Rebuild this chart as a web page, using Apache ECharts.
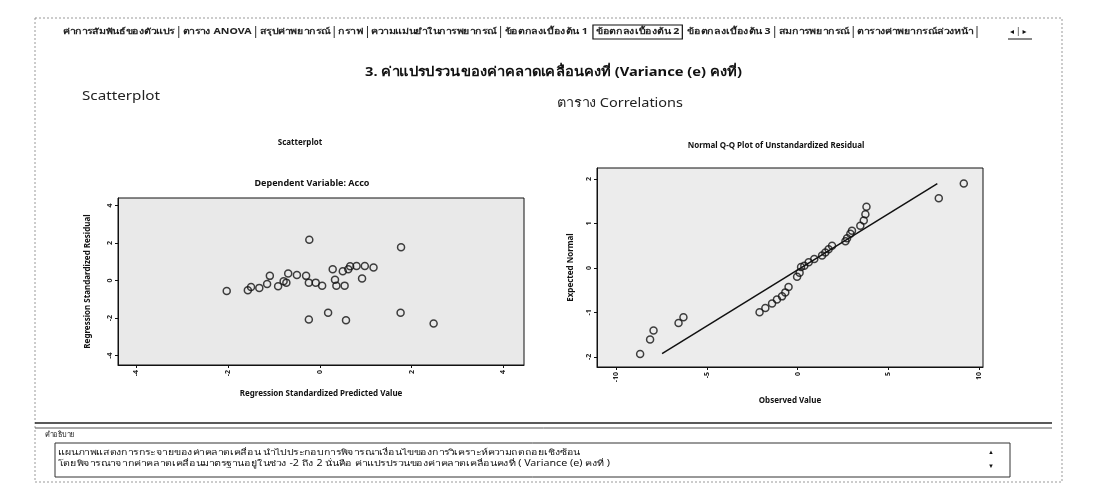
<!DOCTYPE html>
<html>
<head>
<meta charset="utf-8">
<script src="https://cdn.jsdelivr.net/npm/echarts@6/dist/echarts.min.js"></script>
<style>
html,body{margin:0;padding:0;background:#fff;}
#c{width:1097px;height:490px;}
</style>
</head>
<body>
<div id="c"></div>
<script>
// Scatterplot (Dependent Variable: Acco)
const predictedValue = [-2.03,-1.57,-1.50,-1.32,-1.15,-1.09,-0.91,-0.79,-0.73,-0.69,-0.50,-0.30,-0.23,-0.24,-0.24,-0.09,0.05,0.18,0.28,0.33,0.36,0.50,0.54,0.57,0.62,0.66,0.80,0.92,0.98,1.17,1.77,1.76,2.48];
const standardizedResidual = [-0.55,-0.52,-0.34,-0.39,-0.18,0.25,-0.30,-0.04,-0.11,0.37,0.30,0.25,2.17,-0.11,-2.08,-0.11,-0.28,-1.71,0.60,0.04,-0.28,0.50,-0.27,-2.12,0.60,0.76,0.78,0.11,0.78,0.69,1.78,-1.71,-2.29];
const scatterTicks = [-4,-2,0,2,4];

// Normal Q-Q Plot of Unstandardized Residual
const observedValue = [-8.69,-8.14,-7.95,-6.57,-6.30,-2.10,-1.78,-1.41,-1.14,-0.86,-0.68,-0.50,-0.03,0.11,0.19,0.37,0.61,0.92,1.35,1.53,1.71,1.90,2.64,2.73,2.91,3.00,3.46,3.65,3.74,3.80,7.79,9.17];
const expectedNormal = [-1.94,-1.61,-1.41,-1.24,-1.11,-1.00,-0.90,-0.80,-0.71,-0.64,-0.55,-0.43,-0.20,-0.11,0.02,0.05,0.13,0.20,0.28,0.35,0.42,0.50,0.60,0.67,0.77,0.84,0.95,1.07,1.21,1.38,1.57,1.90];
const qqLineX = [-7.48, 7.71];
const qqLineY = [-1.93, 1.90];
const qqXTicks = [-10,-5,0,5,10];
const qqYTicks = [-2,-1,0,1,2];

const tabs = ['ค่าการสัมพันธ์ของตัวแปร','ตาราง ANOVA','สรุปค่าพยากรณ์','กราฟ','ความแม่นยำในการพยากรณ์','ข้อตกลงเบื้องต้น 1','ข้อตกลงเบื้องต้น 2','ข้อตกลงเบื้องต้น 3','สมการพยากรณ์','ตารางค่าพยากรณ์ล่วงหน้า'];
const activeTab = 6;

const FONT = '"Noto Sans","DejaVu Sans",sans-serif';
const mctx = document.createElement('canvas').getContext('2d');
function measure(text,size,weight){ mctx.font = weight + ' ' + size + 'px ' + FONT; return mctx.measureText(text).width || 1; }
function fitText(text, size, weight, x1, x2, y, color){
  const w = measure(text,size,weight);
  return {type:'text', x:x1, y:y, scaleX:(x2-x1)/w,
    style:{text:text, fontSize:size, fontWeight:weight, fontFamily:FONT, fill:color||'#111', verticalAlign:'middle'}};
}

const chart = echarts.init(document.getElementById('c'), null, {renderer:'canvas'});
function zipPts(a,b){return a.map((v,i)=>[v,b[i]]);}

function axisCommon(ticks, nameGap, name){
  return {
    type:'value', name:name, nameLocation:'middle', nameGap:nameGap,
    nameTextStyle:{fontFamily:FONT,fontSize:8,fontWeight:'bold',color:'#111'},
    axisLine:{show:true,onZero:false,lineStyle:{color:'#111',width:1}},
    axisTick:{show:true,length:3,customValues:ticks,lineStyle:{color:'#111'}},
    axisLabel:{show:true,customValues:ticks,fontSize:7,fontWeight:'bold',color:'#222',rotate:90,margin:5,fontFamily:FONT},
    splitLine:{show:false}
  };
}

const graphics = [];
// outer page frame
graphics.push({type:'rect',shape:{x:35,y:18,width:1027,height:464},style:{fill:'none',stroke:'#999',lineWidth:1,lineDash:[2,2]}});

// tab strip: uniform horizontal scale so the strip runs from x0 to xEnd with small gaps
(function(){
  const widths = tabs.map(t=>measure(t,8,'bold'));
  const x0 = 63, xEnd = 973, g = 8;
  const W = widths.reduce((a,b)=>a+b,0);
  const s = (xEnd - x0 - (tabs.length-1)*g)/W;
  let x = x0;
  tabs.forEach((t,i)=>{
    const w = widths[i]*s;
    graphics.push({type:'text',x:x,y:32,scaleX:s,style:{text:t,fontSize:8,fontWeight:'bold',fontFamily:FONT,fill:'#222',verticalAlign:'middle'}});
    if(i===activeTab){
      graphics.push({type:'rect',shape:{x:x-3,y:25,width:w+6,height:14},style:{fill:'none',stroke:'#111',lineWidth:1.2}});
    } else if(i!==activeTab-1){
      graphics.push({type:'line',shape:{x1:x+w+g/2,y1:26,x2:x+w+g/2,y2:38},style:{stroke:'#333',lineWidth:1}});
    }
    x += w + g;
  });
})();
graphics.push({type:'text',x:1010,y:32,style:{text:'◂ | ▸',fontSize:8,fontFamily:FONT,fill:'#111',verticalAlign:'middle'}});
graphics.push({type:'line',shape:{x1:1008,y1:39,x2:1032,y2:39},style:{stroke:'#111',lineWidth:1}});
// headings
graphics.push(fitText('3. ค่าแปรปรวนของค่าคลาดเคลื่อนคงที่ (Variance (e) คงที่)', 13, 'bold', 365, 742, 72, '#111'));
graphics.push(fitText('Scatterplot', 13, 'normal', 82, 160, 96, '#222'));
graphics.push(fitText('ตาราง Correlations', 13, 'normal', 557, 683, 103, '#222'));
// chart titles
graphics.push({type:'text',x:300,y:143,style:{text:'Scatterplot',fontSize:8,fontWeight:'bold',fontFamily:FONT,fill:'#111',align:'center',verticalAlign:'middle'}});
graphics.push({type:'text',x:312,y:183,style:{text:'Dependent Variable: Acco',fontSize:9,fontWeight:'bold',fontFamily:FONT,fill:'#111',align:'center',verticalAlign:'middle'}});
graphics.push({type:'text',x:776,y:146,style:{text:'Normal Q-Q Plot of Unstandardized Residual',fontSize:8,fontWeight:'bold',fontFamily:FONT,fill:'#111',align:'center',verticalAlign:'middle'}});
// bottom description box
graphics.push({type:'line',shape:{x1:35,y1:423,x2:1052,y2:423},style:{stroke:'#222',lineWidth:1.5}});
graphics.push({type:'line',shape:{x1:35,y1:428,x2:1052,y2:428},style:{stroke:'#555',lineWidth:1}});
graphics.push(fitText('คำอธิบาย', 8, 'normal', 45, 75, 435, '#222'));
graphics.push({type:'rect',shape:{x:55,y:443,width:955,height:34},style:{fill:'none',stroke:'#333',lineWidth:1}});
graphics.push(fitText('แผนภาพแสดงการกระจายของค่าคลาดเคลื่อน นำไปประกอบการพิจารณาเงื่อนไขของการวิเคราะห์ความถดถอยเชิงซ้อน', 8, 'normal', 58, 580, 453, '#111'));
graphics.push(fitText('โดยพิจารณาจากค่าคลาดเคลื่อนมาตรฐานอยู่ในช่วง -2 ถึง 2 นั่นคือ ค่าแปรปรวนของค่าคลาดเคลื่อนคงที่ ( Variance (e) คงที่ )', 8, 'normal', 58, 610, 464, '#111'));
graphics.push({type:'text',x:988,y:452,style:{text:'▲',fontSize:6,fill:'#111',verticalAlign:'middle'}});
graphics.push({type:'text',x:988,y:466,style:{text:'▼',fontSize:6,fill:'#111',verticalAlign:'middle'}});

const option = {
  backgroundColor:'#ffffff',
  animation:false,
  grid:[
    {left:118,top:198,width:406,height:167,show:true,backgroundColor:'#e9e9e9',borderColor:'#111',borderWidth:1},
    {left:597,top:168,width:386,height:199,show:true,backgroundColor:'#ececec',borderColor:'#111',borderWidth:1}
  ],
  xAxis:[
    Object.assign(axisCommon(scatterTicks,25,'Regression Standardized Predicted Value'),{gridIndex:0,min:-4.4,max:4.45}),
    Object.assign(axisCommon(qqXTicks,30,'Observed Value'),{gridIndex:1,min:-11.07,max:10.23})
  ],
  yAxis:[
    Object.assign(axisCommon(scatterTicks,26,'Regression Standardized Residual'),{gridIndex:0,min:-4.5,max:4.4}),
    Object.assign(axisCommon(qqYTicks,22,'Expected Normal'),{gridIndex:1,min:-2.23,max:2.25})
  ],
  series:[
    {type:'scatter',xAxisIndex:0,yAxisIndex:0,data:zipPts(predictedValue,standardizedResidual),symbol:'circle',symbolSize:7,
     itemStyle:{color:'rgba(255,255,255,0)',borderColor:'#111',borderWidth:1.5}},
    {type:'line',xAxisIndex:1,yAxisIndex:1,data:zipPts(qqLineX,qqLineY),symbol:'none',lineStyle:{color:'#111',width:1.5}},
    {type:'scatter',xAxisIndex:1,yAxisIndex:1,data:zipPts(observedValue,expectedNormal),symbol:'circle',symbolSize:7,
     itemStyle:{color:'rgba(255,255,255,0)',borderColor:'#111',borderWidth:1.5}}
  ],
  graphic:graphics
};
chart.setOption(option);
</script>
</body>
</html>
